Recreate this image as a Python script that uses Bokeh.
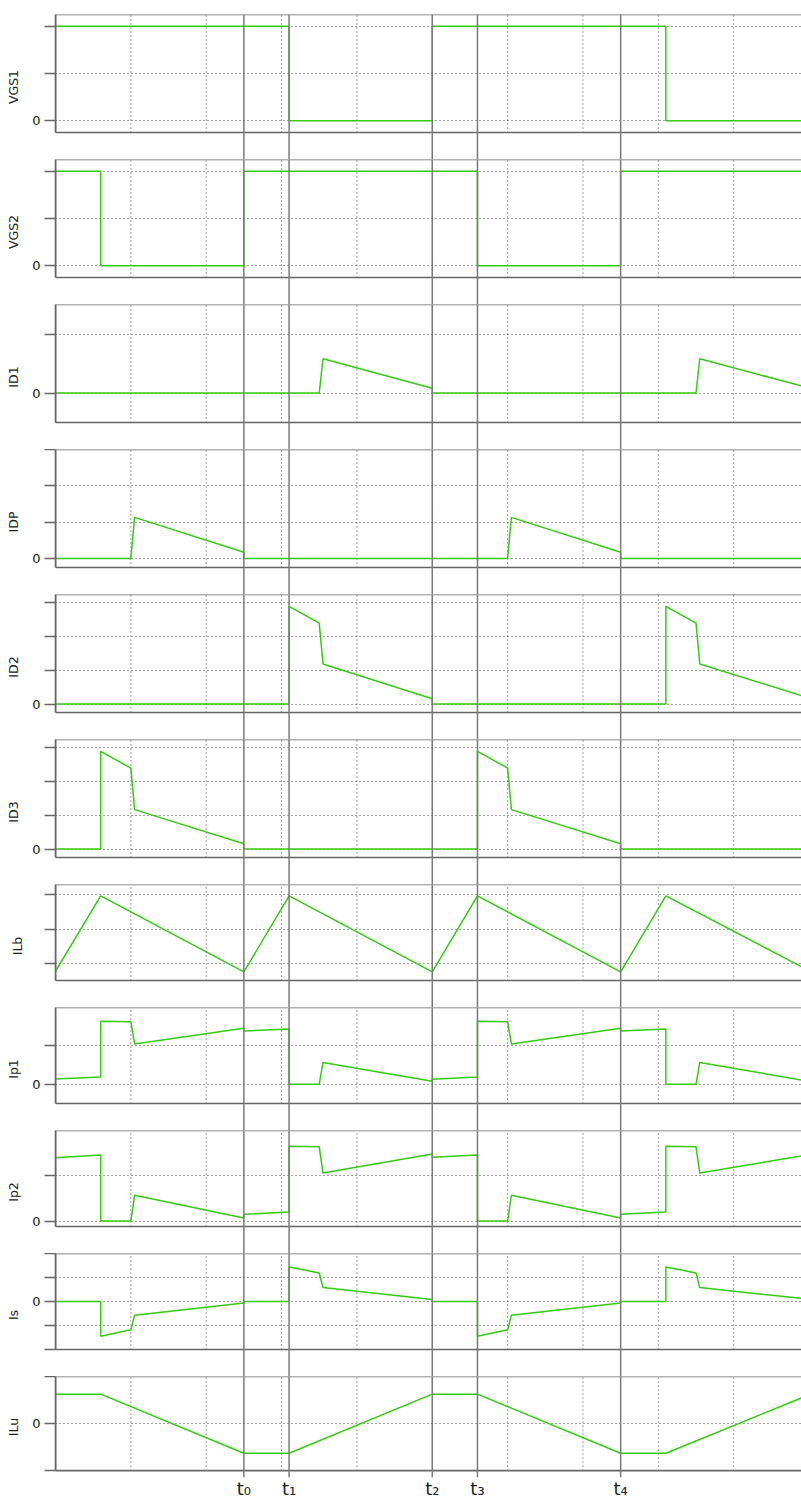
from bokeh.plotting import figure
from bokeh.models import Range1d, FixedTicker, Grid, BoxAnnotation, Span
from bokeh.layouts import column
from bokeh.embed import file_html
from bokeh.resources import INLINE

# ---------------- data ----------------
# time axis: one switching period = 5 units
x_start, x_end = 0.0, 9.9
grid_x = [1, 2, 3, 4, 5, 6, 7, 8, 9]
t_marks = [2.5, 3.1, 5.0, 5.6, 7.5]
t_labels = ["t\u2080", "t\u2081", "t\u2082", "t\u2083", "t\u2084"]

names = ["VGS1", "VGS2", "ID1", "IDP", "ID2", "ID3", "ILb", "Ip1", "Ip2", "Is", "ILu"]

vgs1_t = [0, 3.1, 3.1, 5.0, 5.0, 8.1, 8.1, 9.9]
vgs1_v = [2, 2, 0, 0, 2, 2, 0, 0]

vgs2_t = [0, 0.6, 0.6, 2.5, 2.5, 5.6, 5.6, 7.5, 7.5, 9.9]
vgs2_v = [2, 2, 0, 0, 2, 2, 0, 0, 2, 2]

id1_t = [0, 3.5, 3.55, 5.0, 5.0, 8.5, 8.55, 9.9]
id1_v = [0, 0, 0.58, 0.08, 0, 0, 0.58, 0.12]

idp_t = [0, 1.0, 1.05, 2.5, 2.5, 6.0, 6.05, 7.5, 7.5, 9.9]
idp_v = [0, 0, 1.13, 0.17, 0, 0, 1.13, 0.17, 0, 0]

id2_t = [0, 3.1, 3.1, 3.5, 3.55, 5.0, 5.0, 8.1, 8.1, 8.5, 8.55, 9.9]
id2_v = [0, 0, 2.9, 2.4, 1.19, 0.16, 0, 0, 2.9, 2.4, 1.19, 0.25]

id3_t = [0, 0.6, 0.6, 1.0, 1.05, 2.5, 2.5, 5.6, 5.6, 6.0, 6.05, 7.5, 7.5, 9.9]
id3_v = [0, 0, 2.9, 2.4, 1.17, 0.16, 0, 0, 2.9, 2.4, 1.17, 0.16, 0, 0]

ilb_t = [0, 0.6, 2.5, 3.1, 5.0, 5.6, 7.5, 8.1, 9.9]
ilb_v = [0.77, 2.97, 0.75, 2.97, 0.75, 2.97, 0.75, 2.97, 0.9]

ip_t = [0, 0.6, 0.6, 1.0, 1.05, 2.5, 2.5, 3.1, 3.1, 3.5, 3.55, 5.0,
        5.0, 5.6, 5.6, 6.0, 6.05, 7.5, 7.5, 8.1, 8.1, 8.5, 8.55, 9.9]
ip1_v = [0.14, 0.19, 1.64, 1.63, 1.05, 1.46, 1.39, 1.44, 0, 0, 0.57, 0.08,
         0.13, 0.19, 1.64, 1.63, 1.05, 1.46, 1.39, 1.44, 0, 0, 0.57, 0.11]
ip2_v = [1.4, 1.46, 0, 0, 0.57, 0.07, 0.15, 0.2, 1.65, 1.64, 1.06, 1.48,
         1.41, 1.46, 0, 0, 0.57, 0.07, 0.15, 0.2, 1.65, 1.64, 1.06, 1.44]
is_v = [0, 0, -1.45, -1.18, -0.57, -0.06, 0, 0, 1.44, 1.19, 0.58, 0.08,
        0, 0, -1.45, -1.18, -0.57, -0.06, 0, 0, 1.44, 1.19, 0.58, 0.13]

ilu_t = [0, 0.6, 2.5, 3.1, 5.0, 5.6, 7.5, 8.1, 9.9]
ilu_v = [1.25, 1.25, -1.26, -1.26, 1.25, 1.25, -1.26, -1.26, 1.09]

series = [(vgs1_t, vgs1_v), (vgs2_t, vgs2_v), (id1_t, id1_v), (idp_t, idp_v),
          (id2_t, id2_v), (id3_t, id3_v), (ilb_t, ilb_v), (ip_t, ip1_v),
          (ip_t, ip2_v), (ip_t, is_v), (ilu_t, ilu_v)]

# y scale of each panel box and its ticks
y_lo = [-0.25, -0.25, -0.5, -0.25, -0.25, -0.25, 0.5, -0.5, -0.12, -2, -2]
y_hi = [2.25, 2.25, 1.5, 3.0, 3.25, 3.25, 3.3, 2.0, 2.0, 2, 2]
y_ticks = [[0, 1, 2], [0, 1, 2], [0, 1], [0, 1, 2, 3], [0, 1, 2, 3], [0, 1, 2, 3],
           [1, 2, 3], [0, 1], [0, 1], [-2, -1, 0, 1, 2], [-2, 0, 2]]

# ---------------- style / layout ----------------
W = 801
LEFT = 55
box_px = [118] * 6 + [96] * 5
gap_px = [27] * 10 + [7]
GREEN = "#33cc11"
FRAME = "#666666"
TLINE = "#7a7a7a"
GRIDC = "#444444"
FONT = "DejaVu Sans"

x_range = Range1d(x_start, x_end)
figs = []
n = len(names)
for i in range(n):
    lo, hi = y_lo[i], y_hi[i]
    per_px = (hi - lo) / box_px[i]
    start = lo - gap_px[i] * per_px
    top_border = 14 if i == 0 else 0
    bottom_border = 22 if i == n - 1 else 0
    h = top_border + box_px[i] + gap_px[i] + bottom_border
    p = figure(width=W, height=h, x_range=x_range, y_range=Range1d(start, hi),
               output_backend="svg", toolbar_location=None,
               x_axis_location=("below" if i == n - 1 else None),
               min_border_left=LEFT, min_border_right=0,
               min_border_top=top_border, min_border_bottom=bottom_border,
               outline_line_color=None, background_fill_color="white",
               border_fill_color="white")
    p.grid.visible = False

    # horizontal dotted grid
    p.add_layout(Grid(dimension=1, ticker=FixedTicker(ticks=y_ticks[i]),
                      grid_line_color=GRIDC, grid_line_dash="1 3",
                      grid_line_width=1))
    # vertical dotted grid, limited to the panel box
    p.segment(x0=grid_x, y0=[lo] * len(grid_x), x1=grid_x, y1=[hi] * len(grid_x),
              line_color=GRIDC, line_dash="1 3", line_width=1)

    # panel frame (right side runs past the window edge, as in the original)
    p.add_layout(BoxAnnotation(left=x_start, right=x_end + 0.5, bottom=lo, top=hi,
                               fill_alpha=0, fill_color=None,
                               line_color=FRAME, line_alpha=1.0, line_width=1.6))

    # y axis
    ax = p.yaxis[0]
    ax.ticker = FixedTicker(ticks=y_ticks[i])
    ax.bounds = (lo, hi)
    ax.axis_line_color = FRAME
    ax.axis_line_width = 1.6
    ax.major_tick_line_color = FRAME
    ax.major_tick_line_width = 1.6
    ax.major_tick_out = 11
    ax.major_tick_in = 0
    ax.minor_tick_line_color = None
    ax.major_label_overrides = {v: ("0" if v == 0 else "") for v in y_ticks[i]}
    ax.major_label_text_font = FONT
    ax.major_label_text_font_size = "13px"
    ax.major_label_text_color = "#222222"
    ax.major_label_standoff = 4
    ax.axis_label = names[i]
    ax.axis_label_text_font = FONT
    ax.axis_label_text_font_size = "12.5px"
    ax.axis_label_text_font_style = "normal"
    ax.axis_label_text_color = "#222222"
    ax.axis_label_standoff = 8 if 0 in y_ticks[i] else 20

    # time markers
    for tm in t_marks:
        p.add_layout(Span(location=tm, dimension="height", line_color=TLINE,
                          line_width=1.5))

    tt, vv = series[i]
    p.line(tt, vv, line_color=GREEN, line_width=1.5)

    if i == n - 1:
        xa = p.xaxis[0]
        xa.ticker = FixedTicker(ticks=t_marks)
        xa.major_label_overrides = dict(zip(t_marks, t_labels))
        xa.axis_line_color = None
        xa.major_tick_line_color = None
        xa.minor_tick_line_color = None
        xa.major_tick_out = 0
        xa.major_tick_in = 0
        xa.major_label_standoff = 0
        xa.major_label_text_font = FONT
        xa.major_label_text_font_size = "18px"
        xa.major_label_text_color = "#222222"
    figs.append(p)

layout = column(*figs, spacing=0)
open("out.html", "w").write(file_html(layout, INLINE))
